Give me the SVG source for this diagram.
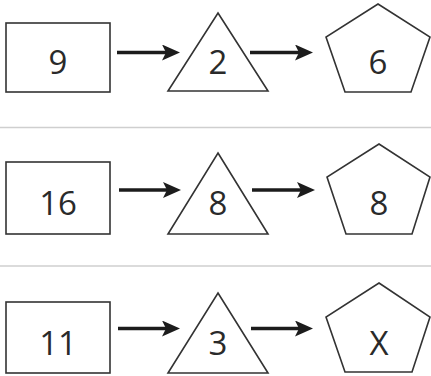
<svg xmlns="http://www.w3.org/2000/svg" width="431" height="376" viewBox="0 0 431 376">
<style>
.shape{fill:none;stroke:#333;stroke-width:1.6;stroke-linejoin:miter}
.sep{stroke:#cfcfcf;stroke-width:1.5}
.conn{stroke:#1c1c1c;stroke-width:3.5;fill:none}
.lbl{font-family:"Open Sans","Liberation Sans",sans-serif;font-size:33px;fill:#2a2a2a;text-anchor:middle}
</style>
<defs>
<marker id="ah" viewBox="0 0 18 16" refX="8" refY="8" markerWidth="18" markerHeight="16" markerUnits="userSpaceOnUse" orient="auto">
<path d="M0,0 L18,8 L0,16 L4,8 Z" fill="#1c1c1c"/>
</marker>
</defs>
<rect width="431" height="376" fill="#fff"/>
<line class="sep" x1="0" y1="127.5" x2="431" y2="127.5"/>
<line class="sep" x1="0" y1="266" x2="431" y2="266"/>

<g id="connectors">
<line class="conn" x1="117" y1="52.5" x2="170" y2="52.5" marker-end="url(#ah)"/>
<line class="conn" x1="250" y1="52.5" x2="303" y2="52.5" marker-end="url(#ah)"/>
<line class="conn" x1="119" y1="190" x2="171" y2="190" marker-end="url(#ah)"/>
<line class="conn" x1="252" y1="190" x2="305" y2="190" marker-end="url(#ah)"/>
<line class="conn" x1="118" y1="328.5" x2="170" y2="328.5" marker-end="url(#ah)"/>
<line class="conn" x1="251" y1="328.5" x2="303" y2="328.5" marker-end="url(#ah)"/>
</g>

<g id="rect1"><rect class="shape" x="6" y="23" width="104" height="69"/><text class="lbl" x="58" y="74">9</text></g>
<g id="tri1"><polygon class="shape" points="218,13 268,91 168,91"/><text class="lbl" x="218" y="74">2</text></g>
<g id="pent1"><polygon class="shape" points="378,4 430,37 411,92 345,92 326,37"/><text class="lbl" x="378" y="74">6</text></g>

<g id="rect2"><rect class="shape" x="6" y="162" width="104" height="72"/><text class="lbl" x="58" y="215">16</text></g>
<g id="tri2"><polygon class="shape" points="218,153 268,234 168,234"/><text class="lbl" x="218" y="215">8</text></g>
<g id="pent2"><polygon class="shape" points="379,144 430,177 412,234 346,234 327,177"/><text class="lbl" x="379" y="215">8</text></g>

<g id="rect3"><rect class="shape" x="6" y="302" width="104" height="71"/><text class="lbl" x="58" y="355">11</text></g>
<g id="tri3"><polygon class="shape" points="218,293 268,373 168,373"/><text class="lbl" x="218" y="355">3</text></g>
<g id="pent3"><polygon class="shape" points="379,283 430,317 412,372 345,372 326,317"/><text class="lbl" x="379" y="355">X</text></g>
</svg>
